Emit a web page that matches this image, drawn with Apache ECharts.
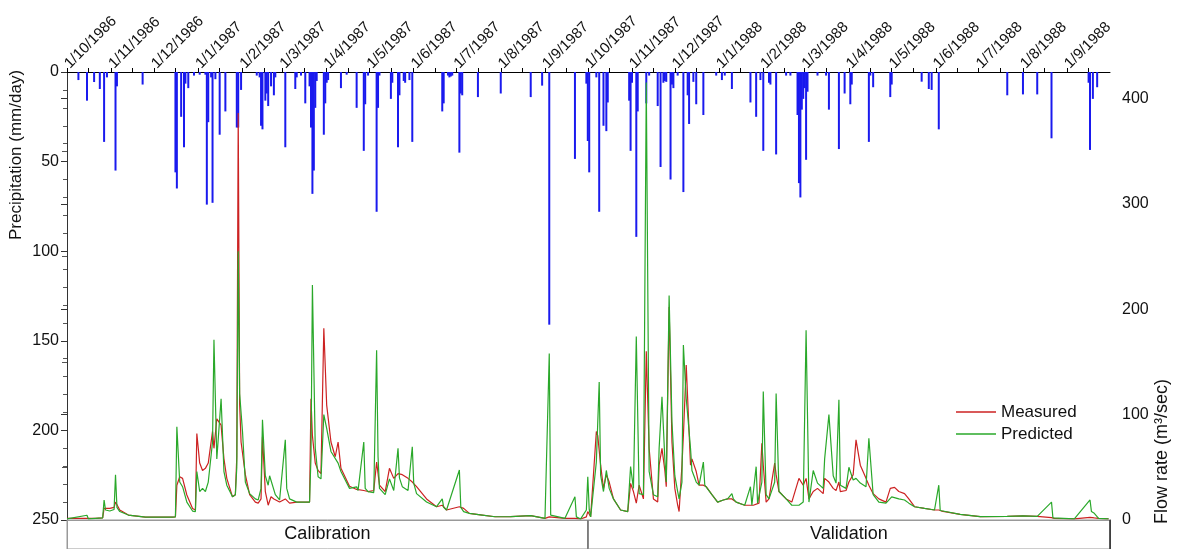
<!DOCTYPE html>
<html>
<head>
<meta charset="utf-8">
<script src="https://cdn.jsdelivr.net/npm/echarts@6/dist/echarts.min.js"></script>
<style>
html,body{margin:0;padding:0;background:#fff;}
#chart{width:1180px;height:549px;}
</style>
</head>
<body>
<div id="chart"></div>
<script>
// Day numbers count from 1 Oct 1986 (day 0).
const startDate = '1986-10-01';
const endDay = 731;

// Top axis tick labels (first day of each month)
const monthLabels = ['1/10/1986','1/11/1986','1/12/1986','1/1/1987','1/2/1987','1/3/1987','1/4/1987','1/5/1987','1/6/1987','1/7/1987','1/8/1987','1/9/1987','1/10/1987','1/11/1987','1/12/1987','1/1/1988','1/2/1988','1/3/1988','1/4/1988','1/5/1988','1/6/1988','1/7/1988','1/8/1988','1/9/1988'];

// Periods shown in the bottom band
const periodNames = ['Calibration', 'Validation'];
const periodStart = [0, 365];
const periodEnd = [365, 731];

// Precipitation (mm/day): [day, value]
const precipitation = [[8,4.5],[14,16],[19,5.6],[23,9.5],[26,39],[28,3],[34,55],[35,8],[53,7],[76,56],[77,65],[80,25],[82,42],[83,6.5],[85,9],[89,2],[93,1.5],[97,1.5],[98,74],[99,28],[101,3],[102,73],[104,4],[107,35],[111,22],[119,31],[120,31],[122,10],[133,2],[135,3],[136,30],[137,32],[139,16],[140,12],[141,19],[143,8],[145,13],[146,3],[153,42],[160,9.5],[161,3],[164,2],[167,17.5],[170,8],[171,31],[172,68],[173,55],[174,20],[175,5],[180,35],[181,17.5],[182,6],[183,4.5],[192,9],[196,1.5],[203,20],[208,44],[209,18],[211,2],[217,78],[218,20],[219,2],[227,15],[228,6],[232,42],[233,13],[236,5],[237,6],[240,4.5],[242,39],[263,22],[264,17.5],[267,2],[268,3],[269,2.5],[270,2],[275,45],[276,12],[277,13],[288,14],[304,12],[325,14],[333,7.6],[338,141],[356,48.5],[364,6.5],[365,38.5],[366,56],[371,3],[373,78],[376,30],[378,33],[379,17],[394,16],[395,44],[396,6],[399,92],[400,22],[406,17.5],[408,2],[414,19],[416,53],[418,6],[419,5],[420,5.5],[423,60],[424,7],[425,9],[428,2],[432,67],[435,13],[436,29],[439,5.5],[441,18],[446,24],[455,2],[459,4.5],[461,2],[466,9.5],[479,17],[483,25],[486,4.5],[488,44],[492,6],[493,7],[497,46],[504,2],[507,2],[512,24],[513,62],[514,70],[515,21],[516,15],[517,9],[518,49],[519,11],[526,2],[532,2],[534,21],[541,43],[545,12],[549,18],[550,7],[562,39],[563,2],[565,8.5],[577,14],[578,7],[599,5.4],[604,9.5],[606,10],[611,32],[659,13],[670,12.5],[680,12.5],[690,37],[716,6],[717,43.5],[719,15],[722,8.5]];

// Measured flow rate (m3/sec): [day, value]
const measured = [[0,1.5],[14,1.5],[20,1.5],[25,2],[26,11],[27,12.6],[30,11],[33,12],[34,17],[37,9.5],[43,4.7],[55,2.8],[74,2.8],[76,3],[77,33],[79,41],[81,39.5],[84,23.7],[88,11],[90,9.5],[91,82],[93,54],[95,47],[97,49],[99,54],[102,84],[103,68],[105,96],[108,90],[110,58],[112,39.5],[116,22],[118,24],[119,60],[120,386],[121,110],[122,74],[125,43],[128,24],[132,17],[134,16],[136,20],[137,79],[139,27],[141,14],[143,22],[145,20],[149,17],[153,20],[156,16],[161,17],[170,17],[171,115],[172,80],[174,54],[176,47],[178,44],[180,182],[182,109],[185,74],[188,60],[190,74],[192,49],[198,32],[203,29],[208,28],[211,27],[215,28],[217,55],[219,33],[223,27],[226,49],[229,39.5],[232,44],[235,43],[239,39.5],[242,36],[245,31.6],[252,20],[259,12.6],[263,14],[266,9.5],[275,12.6],[278,11],[282,6.3],[291,4.7],[300,3.1],[311,3.2],[325,4.1],[335,1.6],[338,3],[349,1.6],[356,1.6],[360,1],[364,3],[365,8],[367,3],[371,84],[372,80],[374,52],[376,30],[378,43],[380,36],[383,20],[388,9.5],[393,8],[395,34.7],[397,27],[399,16],[401,33],[404,20],[406,160],[408,68],[411,20],[414,17],[415,52],[417,68],[419,47],[420,31.6],[422,202],[424,74],[426,30],[428,14],[429,8],[431,52],[432,80],[434,147],[435,115],[437,52],[438,58],[441,46],[443,33],[446,33],[448,31.6],[452,24],[456,17],[460,19],[463,20],[466,20],[469,17],[475,14],[481,14],[485,16],[487,72.7],[488,52],[490,17],[492,20],[496,54],[497,43],[499,27],[504,20],[508,17],[513,39.5],[516,33],[518,39.5],[520,20],[523,27],[526,30],[530,25],[531,39.5],[534,36],[537,30],[539,28],[541,36],[542,27],[546,28],[548,36],[551,43],[553,76],[556,52],[560,39.5],[562,33],[565,25],[569,20],[574,17],[577,30],[580,31],[583,27],[587,25],[590,20],[594,12.6],[601,11],[608,9.5],[611,9.5],[613,8.5],[626,5.3],[640,3.2],[659,3.5],[670,4],[680,3.5],[690,2.2],[692,1.6],[706,1],[717,2.5],[720,2],[723,1.6],[730,1]];

// Predicted flow rate (m3/sec): [day, value]
const predicted = [[0,1],[14,4.5],[15,1],[20,1.5],[25,2],[26,19],[27,9.5],[30,8.5],[33,10],[34,43],[35,12],[37,8],[43,4.7],[55,2.8],[74,2.8],[76,3],[77,88.5],[79,36],[81,31.6],[84,17],[88,8.5],[90,8],[91,46],[93,27],[95,30],[97,27],[99,36],[102,74],[103,171],[105,58],[108,115],[110,46],[112,33],[116,22],[118,24],[119,50],[120,255],[121,120],[123,84],[125,36],[128,25],[132,20],[134,19],[136,30],[137,95],[139,42],[141,33],[142,42],[146,24],[149,19],[153,76],[154,30],[156,20],[161,17],[170,17],[171,60],[172,223],[174,68],[176,41],[178,39],[180,100],[182,87],[185,65],[190,54],[192,46],[198,30],[203,31.5],[204,28],[208,74],[209,30],[211,27],[215,26],[217,161],[218,60],[219,30],[223,24],[226,39],[229,28],[232,68],[233,40],[235,31.6],[239,28],[242,69.5],[243,35],[245,25],[252,17],[259,12.6],[263,20],[264,12],[266,9.5],[275,47.4],[276,12],[278,8],[282,6.3],[291,4.7],[300,3.1],[311,3.2],[325,4.1],[335,1.6],[338,158],[339,4.7],[349,1.6],[356,22],[357,3],[360,1],[364,9.5],[365,41],[366,10],[367,3],[371,55],[373,131],[374,42.6],[376,27],[378,47],[380,30],[383,20],[388,9.5],[393,8],[395,50.6],[397,30],[399,174],[401,25],[404,24],[406,415],[408,46],[411,24],[414,22],[415,68],[417,117],[419,58],[420,36],[422,213],[424,93],[426,42],[428,27],[429,20],[431,36],[432,166],[434,115],[435,100],[437,68],[438,47],[441,36],[443,33],[446,55],[447,33],[448,31.6],[452,24],[456,17],[460,19],[463,20],[466,25],[467,20],[469,17],[475,14],[479,31.6],[480,14],[483,50.6],[484,16],[487,36],[488,122],[490,24],[492,20],[496,36],[497,120],[499,27],[504,20],[508,14],[513,14],[516,17],[518,180],[520,17],[523,47],[526,35],[530,30],[531,58],[534,100],[537,42],[539,35],[541,114],[542,33],[546,30],[548,50],[551,38],[553,39.5],[556,35],[560,31.6],[562,77.5],[565,24],[569,17],[574,16],[578,22],[583,20],[587,19],[590,16],[594,12.6],[601,11],[608,9.5],[611,33],[612,9],[613,8.5],[626,5.3],[640,3.2],[659,3.5],[670,4],[680,3.5],[690,17],[691,2],[706,1],[717,19],[718,8],[720,6.3],[723,1.6],[730,1]];

// ---------- build ----------
const DAY = 86400000;
const T0 = Date.parse(startDate + 'T00:00:00Z');
const labelDays = monthLabels.map(s => { const [d, m, y] = s.split('/').map(Number); return Math.round((Date.UTC(y, m - 1, d) - T0) / DAY); });
const tickDays = [];
monthLabels.forEach((s, i) => {
  const [d, m, y] = s.split('/').map(Number);
  tickDays.push(labelDays[i]);
  tickDays.push(Math.round((Date.UTC(y, m - 1, 16) - T0) / DAY));
});
const labelMap = {};
labelDays.forEach((v, i) => labelMap[v] = monthLabels[i]);

const FONT = '"Liberation Sans", Arial, sans-serif';
const chart = echarts.init(document.getElementById('chart'), null, {renderer: 'canvas'});

const option = {
  animation: false,
  backgroundColor: '#fff',
  textStyle: {fontFamily: FONT, color: '#000'},
  grid: [
    {left: 67, right: 70, top: 72, height: 448},
    {left: 67, right: 70, top: 520, height: 29}
  ],
  legend: {
    orient: 'vertical', left: 951, top: 398, icon: 'rect', itemWidth: 40, itemHeight: 1.5, itemGap: 4,
    data: ['Measured', 'Predicted'],
    textStyle: {fontSize: 17, fontFamily: FONT, color: '#111', lineHeight: 18, padding: [0, 0, 0, 0]}
  },
  xAxis: [
    {
      type: 'value', gridIndex: 0, position: 'top', min: 0, max: endDay,
      axisLine: {show: true, lineStyle: {color: '#000', width: 1}},
      axisTick: {show: true, inside: false, length: 4, customValues: tickDays, lineStyle: {color: '#000'}},
      axisLabel: {
        show: true, customValues: labelDays, rotate: 45, margin: 6, fontSize: 15, color: '#111', fontFamily: FONT,
        formatter: v => labelMap[v] || ''
      },
      splitLine: {show: false}
    },
    {
      type: 'value', gridIndex: 0, position: 'bottom', min: 0, max: endDay,
      axisLine: {show: true, onZero: false, lineStyle: {color: '#999', width: 1}},
      axisTick: {show: false}, axisLabel: {show: false}, splitLine: {show: false}
    },
    {
      type: 'value', gridIndex: 1, min: 0, max: endDay, show: false
    }
  ],
  yAxis: [
    {
      type: 'value', gridIndex: 0, inverse: true, min: 0, max: 250, interval: 50,
      axisLine: {show: true, lineStyle: {color: '#555'}},
      axisTick: {show: true, length: 6, lineStyle: {color: '#333'}},
      minorTick: {show: true, splitNumber: 5, length: 4, lineStyle: {color: '#555'}},
      axisLabel: {fontSize: 16, color: '#111', margin: 8, fontFamily: FONT},
      splitLine: {show: false}
    },
    {
      type: 'value', gridIndex: 0, position: 'right', min: 0, max: 425, interval: 100,
      axisLine: {show: true, lineStyle: {color: '#333'}},
      axisTick: {show: true, inside: true, length: 6, lineStyle: {color: '#333'}},
      minorTick: {show: true, splitNumber: 2, length: 5, lineStyle: {color: '#555'}},
      axisLabel: {fontSize: 16, color: '#111', margin: 12, showMaxLabel: false, fontFamily: FONT,
        formatter: v => (v % 100 === 0 ? String(v) : '')},
      splitLine: {show: false}
    },
    {
      type: 'value', gridIndex: 1, min: 0, max: 1, position: 'left',
      axisLine: {show: true, lineStyle: {color: '#999'}},
      axisTick: {show: false}, axisLabel: {show: false}, splitLine: {show: false}
    },
    {
      type: 'value', gridIndex: 1, min: 0, max: 1, position: 'right',
      axisLine: {show: true, lineStyle: {color: '#333'}},
      axisTick: {show: false}, axisLabel: {show: false}, splitLine: {show: false}
    }
  ],
  graphic: [
    {type: 'text', rotation: Math.PI / 2, x: 8, y: 240,
      style: {text: 'Precipitation (mm/day)', font: '17px ' + FONT, fill: '#111'}},
    {type: 'text', rotation: Math.PI / 2, x: 1153, y: 524,
      style: {text: 'Flow rate (m³/sec)', font: '18px ' + FONT, fill: '#111'}}
  ],
  series: [
    {
      name: 'Precipitation', type: 'bar', xAxisIndex: 0, yAxisIndex: 0,
      data: precipitation, barWidth: 2,
      itemStyle: {color: '#1a1aee'}, z: 2
    },
    {
      name: 'Measured', type: 'line', xAxisIndex: 0, yAxisIndex: 1,
      data: measured, symbol: 'none', showSymbol: false,
      lineStyle: {color: '#cc2222', width: 1.2}, itemStyle: {color: '#cc2222'}, z: 3
    },
    {
      name: 'Predicted', type: 'line', xAxisIndex: 0, yAxisIndex: 1,
      data: predicted, symbol: 'none', showSymbol: false,
      lineStyle: {color: '#2aa82a', width: 1.2}, itemStyle: {color: '#2aa82a'}, z: 4
    },
    {
      name: 'Periods', type: 'custom', xAxisIndex: 2, yAxisIndex: 2,
      data: periodStart.map((s, i) => [s, periodEnd[i]]),
      encode: {x: [0, 1]},
      renderItem: (params, api) => {
        const a = api.coord([api.value(0), 0]);
        const b = api.coord([api.value(1), 1]);
        return {
          type: 'group',
          children: [
            {type: 'rect', shape: {x: a[0], y: b[1], width: b[0] - a[0], height: a[1] - b[1]},
              style: {fill: 'none', stroke: '#999', lineWidth: 1}},
            {type: 'line', shape: {x1: b[0], y1: b[1], x2: b[0], y2: a[1]},
              style: {stroke: '#333', lineWidth: 1.5}},
            {type: 'text', x: (a[0] + b[0]) / 2, y: (a[1] + b[1]) / 2,
              style: {text: periodNames[params.dataIndex], font: '18px ' + FONT, fill: '#111', align: 'center', verticalAlign: 'middle'}}
          ]
        };
      },
      z: 5
    }
  ]
};
chart.setOption(option);
</script>
</body>
</html>
